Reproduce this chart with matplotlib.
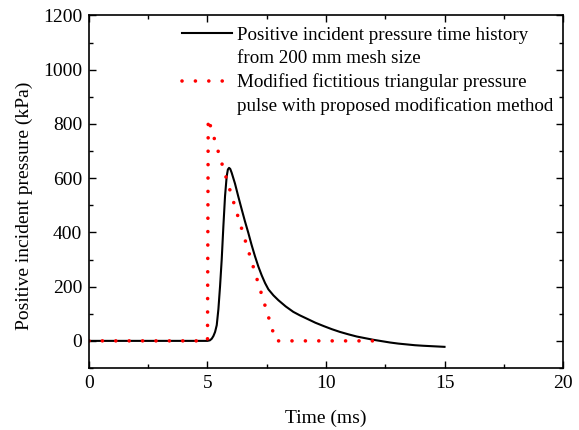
import matplotlib
matplotlib.use("Agg")
import matplotlib.pyplot as plt
from matplotlib.ticker import MultipleLocator
from matplotlib.lines import Line2D

# Data
t_sim = [0.0, 5.0, 5.1, 5.18, 5.25, 5.32, 5.39, 5.46, 5.53, 5.6, 5.67, 5.74, 5.81, 5.86,
         5.91, 5.96, 6.02, 6.16, 6.30, 6.44, 6.58, 6.72, 6.86, 7.0, 7.15, 7.29, 7.43, 7.57,
         7.78, 7.99, 8.3, 8.62, 8.9, 9.19, 9.55, 9.89, 10.25, 10.59, 10.95, 11.3, 11.65,
         12.0, 12.35, 12.7, 13.05, 13.4, 13.75, 14.1, 14.55, 15.0]
p_sim = [0, 0, 2, 8, 18, 33, 58, 117, 202, 301, 423, 534, 607, 632,
         638, 634, 620, 580, 532, 486, 441, 399, 354, 313, 273, 241, 213, 190,
         168, 150, 127, 107, 94, 82, 67, 55, 43, 33, 24, 16, 10,
         4, -1, -6, -10, -13, -16, -18, -20, -22]

t_tri = [0.0, 5.0, 5.03, 7.88, 12.3]
p_tri = [0, 0, 820, 0, 0]

labels_sim = ["Positive incident pressure time history", "from 200 mm mesh size"]
labels_tri = ["Modified fictitious triangular pressure",
              "pulse with proposed modification method"]

plt.rcParams['font.family'] = ['Liberation Serif', 'DejaVu Serif']
plt.rcParams['mathtext.fontset'] = 'stix'

fig = plt.figure(figsize=(5.79, 4.30), dpi=100)
ax = fig.add_axes([0.1537, 0.1442, 0.8187, 0.8198])

h_sim, = ax.plot(t_sim, p_sim, color='black', lw=1.5)
h_tri, = ax.plot(t_tri, p_tri, color='red', lw=2.6, linestyle=(0, (0.01, 3.7)),
                 dash_capstyle='round')

ax.set_xlim(0, 20)
ax.set_ylim(-100, 1200)
ax.xaxis.set_major_locator(MultipleLocator(5))
ax.xaxis.set_minor_locator(MultipleLocator(2.5))
ax.yaxis.set_major_locator(MultipleLocator(200))
ax.yaxis.set_minor_locator(MultipleLocator(100))
ax.tick_params(which='both', direction='in', top=True, right=True, labelsize=14)
ax.tick_params(which='major', length=5, width=1, pad=5)
ax.tick_params(which='minor', length=3, width=1)
for s in ax.spines.values():
    s.set_linewidth(1.2)

ax.set_xlabel("Time (ms)", fontsize=14, labelpad=13)
ax.set_ylabel("Positive incident pressure (kPa)", fontsize=14)
ax.yaxis.set_label_coords(-0.118, 0.46)

blank = Line2D([], [], color='none')
ax.legend(handles=[h_sim, blank, h_tri, blank],
          labels=[labels_sim[0], labels_sim[1], labels_tri[0], labels_tri[1]],
          loc='upper left', frameon=False, fontsize=13.7, handlelength=2.65,
          borderpad=0, borderaxespad=0, labelspacing=0.32, handletextpad=0.25,
          bbox_to_anchor=(0.196, 0.968))

fig.savefig("out.png", dpi=100)
